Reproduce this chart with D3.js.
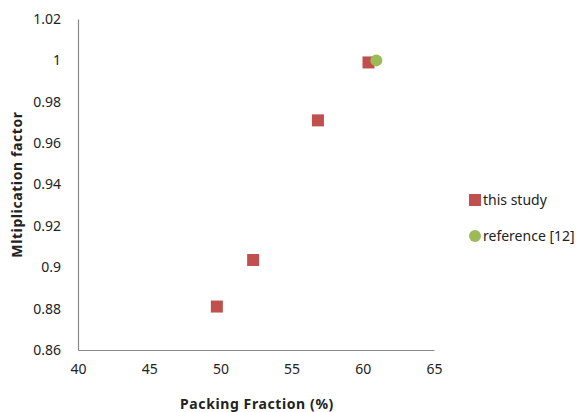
<!DOCTYPE html>
<html>
<head>
<meta charset="utf-8">
<script src="https://cdn.jsdelivr.net/npm/d3@7"></script>
<style>
  body { margin: 0; background: #fff; }
  text { font-family: "Noto Sans", "Open Sans", sans-serif; fill: #222; }
</style>
</head>
<body>
<div id="chart"></div>
<script>
const studyX = [60.4, 56.85, 52.3, 49.75];
const studyY = [0.999, 0.971, 0.9035, 0.881];
const refX = [60.95];
const refY = [1.0];
const xTicks = [40, 45, 50, 55, 60, 65];
const yTicks = [0.86, 0.88, 0.9, 0.92, 0.94, 0.96, 0.98, 1, 1.02];
const seriesNames = ['this study', 'reference [12]'];

const width = 584, height = 412;
const margin = {top: 19, bottom: 62, left: 78, right: 150};

const svg = d3.select('#chart').append('svg')
  .attr('width', width)
  .attr('height', height);

const x = d3.scaleLinear().domain([40, 65]).range([margin.left, width - margin.right]);
const y = d3.scaleLinear().domain([0.86, 1.02]).range([height - margin.bottom, margin.top]);

function xAxis(g) {
  g.attr('transform', `translate(0, ${height - margin.bottom})`)
    .call(d3.axisBottom(x).tickValues(xTicks).tickSize(0).tickPadding(14).tickFormat(d3.format('d')));
  g.select('.domain').attr('stroke', '#898989').attr('stroke-width', 1.2);
  g.selectAll('text').attr('font-size', 14);
}
function yAxis(g) {
  g.attr('transform', `translate(${margin.left}, 0)`)
    .call(d3.axisLeft(y).tickValues(yTicks).tickSize(0).tickPadding(17).tickFormat(d => String(+d.toFixed(2))));
  g.select('.domain').attr('stroke', '#898989').attr('stroke-width', 1.2);
  g.selectAll('text').attr('font-size', 14);
}
svg.append('g').call(xAxis);
svg.append('g').call(yAxis);

const study = d3.zip(studyX, studyY);
const ref = d3.zip(refX, refY);
const sq = 12;

svg.append('g').attr('fill', '#C0504D')
  .selectAll('rect').data(study).join('rect')
  .attr('x', d => x(d[0]) - sq / 2)
  .attr('y', d => y(d[1]) - sq / 2)
  .attr('width', sq).attr('height', sq);

svg.append('g').attr('fill', '#9BBB59')
  .selectAll('circle').data(ref).join('circle')
  .attr('cx', d => x(d[0]))
  .attr('cy', d => y(d[1]))
  .attr('r', 6);

// axis titles
svg.append('text')
  .attr('x', (x(40) + x(65)) / 2 + 1)
  .attr('y', 409)
  .attr('text-anchor', 'middle')
  .attr('font-size', 14).attr('font-weight', 'bold').attr('letter-spacing', 0.6)
  .text('Packing Fraction (%)');

svg.append('text')
  .attr('transform', `translate(22, ${(y(0.86) + y(1.02)) / 2}) rotate(-90)`)
  .attr('text-anchor', 'middle')
  .attr('font-size', 14).attr('font-weight', 'bold').attr('letter-spacing', 0.6)
  .text('Mltiplication  factor');

// legend
const legend = svg.append('g').attr('transform', 'translate(469, 200)');
legend.append('rect').attr('x', 0).attr('y', -6).attr('width', 12).attr('height', 12).attr('fill', '#C0504D');
legend.append('text').attr('x', 14).attr('y', 5).attr('font-size', 14).text(seriesNames[0]);
legend.append('circle').attr('cx', 6).attr('cy', 36).attr('r', 6).attr('fill', '#9BBB59');
legend.append('text').attr('x', 14).attr('y', 41).attr('font-size', 14).text(seriesNames[1]);
</script>
</body>
</html>
